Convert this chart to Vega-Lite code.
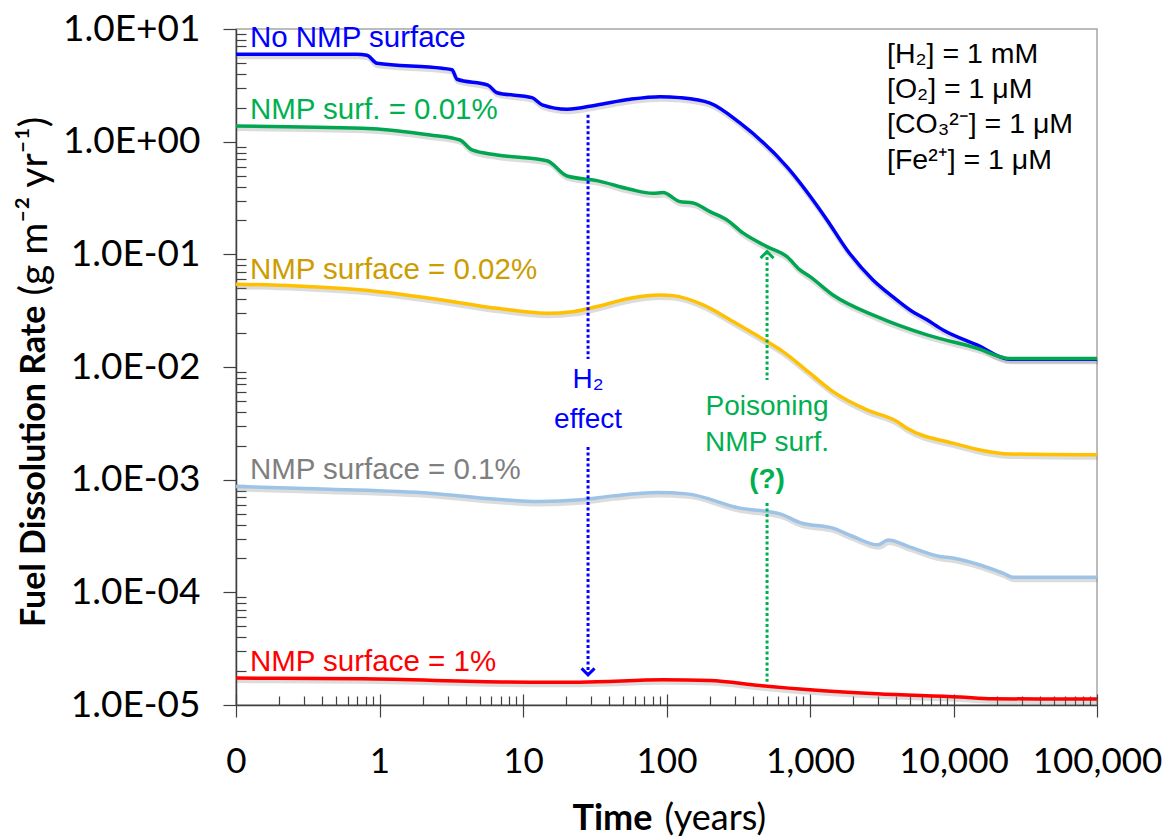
{
  "$schema": "https://vega.github.io/schema/vega-lite/v6.json",
  "width": 861,
  "height": 676,
  "autosize": {"type": "none"},
  "padding": {"left": 236, "top": 29, "right": 72, "bottom": 133},
  "background": "white",
  "config": {
    "view": {"stroke": "#a6a6a6", "strokeWidth": 1.5},
    "axis": {"grid": false}
  },
  "datasets": {
    "curves": [
      {"series": "No NMP surface", "t": 0.1, "r": 5.965},
      {"series": "No NMP surface", "t": 0.697, "r": 5.965},
      {"series": "No NMP surface", "t": 0.818, "r": 5.85},
      {"series": "No NMP surface", "t": 0.961, "r": 4.96},
      {"series": "No NMP surface", "t": 2.73, "r": 4.48},
      {"series": "No NMP surface", "t": 3.2, "r": 4.35},
      {"series": "No NMP surface", "t": 3.47, "r": 3.58},
      {"series": "No NMP surface", "t": 5.7, "r": 3.18},
      {"series": "No NMP surface", "t": 6.59, "r": 2.72},
      {"series": "No NMP surface", "t": 11.55, "r": 2.46},
      {"series": "No NMP surface", "t": 13.6, "r": 2.12},
      {"series": "No NMP surface", "t": 20.3, "r": 1.94},
      {"series": "No NMP surface", "t": 32.8, "r": 2.12},
      {"series": "No NMP surface", "t": 55.7, "r": 2.38},
      {"series": "No NMP surface", "t": 90.1, "r": 2.51},
      {"series": "No NMP surface", "t": 124, "r": 2.46},
      {"series": "No NMP surface", "t": 201, "r": 2.2},
      {"series": "No NMP surface", "t": 325, "r": 1.465},
      {"series": "No NMP surface", "t": 691, "r": 0.597},
      {"series": "No NMP surface", "t": 1314, "r": 0.202},
      {"series": "No NMP surface", "t": 1811, "r": 0.1094},
      {"series": "No NMP surface", "t": 2748, "r": 0.0593},
      {"series": "No NMP surface", "t": 3788, "r": 0.0419},
      {"series": "No NMP surface", "t": 4977, "r": 0.0321},
      {"series": "No NMP surface", "t": 6537, "r": 0.0262},
      {"series": "No NMP surface", "t": 8450, "r": 0.02134},
      {"series": "No NMP surface", "t": 14580, "r": 0.01571},
      {"series": "No NMP surface", "t": 24760, "r": 0.0117},
      {"series": "No NMP surface", "t": 100000, "r": 0.0117},
      {"series": "NMP surf. = 0.01%", "t": 0.1, "r": 1.378},
      {"series": "NMP surf. = 0.01%", "t": 0.767, "r": 1.315},
      {"series": "NMP surf. = 0.01%", "t": 2.25, "r": 1.147},
      {"series": "NMP surf. = 0.01%", "t": 3.64, "r": 1.035},
      {"series": "NMP surf. = 0.01%", "t": 4.41, "r": 0.844},
      {"series": "NMP surf. = 0.01%", "t": 6.59, "r": 0.762},
      {"series": "NMP surf. = 0.01%", "t": 14.7, "r": 0.678},
      {"series": "NMP surf. = 0.01%", "t": 20.3, "r": 0.496},
      {"series": "NMP surf. = 0.01%", "t": 32.8, "r": 0.451},
      {"series": "NMP surf. = 0.01%", "t": 55.7, "r": 0.378},
      {"series": "NMP surf. = 0.01%", "t": 80.5, "r": 0.348},
      {"series": "NMP surf. = 0.01%", "t": 94.5, "r": 0.353},
      {"series": "NMP surf. = 0.01%", "t": 124, "r": 0.2935},
      {"series": "NMP surf. = 0.01%", "t": 153, "r": 0.2858},
      {"series": "NMP surf. = 0.01%", "t": 201, "r": 0.2393},
      {"series": "NMP surf. = 0.01%", "t": 264, "r": 0.202},
      {"series": "NMP surf. = 0.01%", "t": 341, "r": 0.1548},
      {"series": "NMP surf. = 0.01%", "t": 502, "r": 0.117},
      {"series": "NMP surf. = 0.01%", "t": 691, "r": 0.0954},
      {"series": "NMP surf. = 0.01%", "t": 852, "r": 0.0727},
      {"series": "NMP surf. = 0.01%", "t": 1000, "r": 0.0634},
      {"series": "NMP surf. = 0.01%", "t": 1446, "r": 0.0436},
      {"series": "NMP surf. = 0.01%", "t": 2931, "r": 0.028},
      {"series": "NMP surf. = 0.01%", "t": 6537, "r": 0.01927},
      {"series": "NMP surf. = 0.01%", "t": 14580, "r": 0.01468},
      {"series": "NMP surf. = 0.01%", "t": 24760, "r": 0.0119},
      {"series": "NMP surf. = 0.01%", "t": 100000, "r": 0.0119},
      {"series": "NMP surface = 0.02%", "t": 0.1, "r": 0.0543},
      {"series": "NMP surface = 0.02%", "t": 0.266, "r": 0.0524},
      {"series": "NMP surface = 0.02%", "t": 0.767, "r": 0.0483},
      {"series": "NMP surface = 0.02%", "t": 2.25, "r": 0.0408},
      {"series": "NMP surface = 0.02%", "t": 6.59, "r": 0.0332},
      {"series": "NMP surface = 0.02%", "t": 14.7, "r": 0.03},
      {"series": "NMP surface = 0.02%", "t": 22.3, "r": 0.031},
      {"series": "NMP surface = 0.02%", "t": 32.8, "r": 0.0344},
      {"series": "NMP surface = 0.02%", "t": 55.7, "r": 0.0408},
      {"series": "NMP surface = 0.02%", "t": 90.1, "r": 0.0436},
      {"series": "NMP surface = 0.02%", "t": 111, "r": 0.043},
      {"series": "NMP surface = 0.02%", "t": 180, "r": 0.0356},
      {"series": "NMP surface = 0.02%", "t": 291, "r": 0.0253},
      {"series": "NMP surface = 0.02%", "t": 502, "r": 0.0168},
      {"series": "NMP surface = 0.02%", "t": 648, "r": 0.0137},
      {"series": "NMP surface = 0.02%", "t": 1000, "r": 0.00881},
      {"series": "NMP surface = 0.02%", "t": 1446, "r": 0.00605},
      {"series": "NMP surface = 0.02%", "t": 2496, "r": 0.00416},
      {"series": "NMP surface = 0.02%", "t": 4041, "r": 0.00328},
      {"series": "NMP surface = 0.02%", "t": 4742, "r": 0.00286},
      {"series": "NMP surface = 0.02%", "t": 9920, "r": 0.00211},
      {"series": "NMP surface = 0.02%", "t": 24760, "r": 0.00169},
      {"series": "NMP surface = 0.02%", "t": 100000, "r": 0.00166},
      {"series": "NMP surface = 0.1%", "t": 0.1, "r": 0.000869},
      {"series": "NMP surface = 0.1%", "t": 0.452, "r": 0.000823},
      {"series": "NMP surface = 0.1%", "t": 2.25, "r": 0.000759},
      {"series": "NMP surface = 0.1%", "t": 6.59, "r": 0.000671},
      {"series": "NMP surface = 0.1%", "t": 13.1, "r": 0.000639},
      {"series": "NMP surface = 0.1%", "t": 25, "r": 0.000662},
      {"series": "NMP surface = 0.1%", "t": 42.4, "r": 0.000718},
      {"series": "NMP surface = 0.1%", "t": 85.9, "r": 0.000768},
      {"series": "NMP surface = 0.1%", "t": 139, "r": 0.000748},
      {"series": "NMP surface = 0.1%", "t": 325, "r": 0.000559},
      {"series": "NMP surface = 0.1%", "t": 618, "r": 0.000497},
      {"series": "NMP surface = 0.1%", "t": 852, "r": 0.000416},
      {"series": "NMP surface = 0.1%", "t": 1446, "r": 0.000371},
      {"series": "NMP surface = 0.1%", "t": 1994, "r": 0.000313},
      {"series": "NMP surface = 0.1%", "t": 2979, "r": 0.000264},
      {"series": "NMP surface = 0.1%", "t": 3497, "r": 0.000292},
      {"series": "NMP surface = 0.1%", "t": 4977, "r": 0.000252},
      {"series": "NMP surface = 0.1%", "t": 8054, "r": 0.000208},
      {"series": "NMP surface = 0.1%", "t": 9011, "r": 0.000205},
      {"series": "NMP surface = 0.1%", "t": 22130, "r": 0.000148},
      {"series": "NMP surface = 0.1%", "t": 25980, "r": 0.000136},
      {"series": "NMP surface = 0.1%", "t": 100000, "r": 0.000136},
      {"series": "NMP surface = 1%", "t": 0.1, "r": 0.00001733},
      {"series": "NMP surface = 1%", "t": 0.767, "r": 0.00001708},
      {"series": "NMP surface = 1%", "t": 11.2, "r": 0.00001596},
      {"series": "NMP surface = 1%", "t": 25, "r": 0.00001596},
      {"series": "NMP surface = 1%", "t": 94.5, "r": 0.00001673},
      {"series": "NMP surface = 1%", "t": 201, "r": 0.00001649},
      {"series": "NMP surface = 1%", "t": 448, "r": 0.00001489},
      {"series": "NMP surface = 1%", "t": 1000, "r": 0.00001364},
      {"series": "NMP surface = 1%", "t": 2931, "r": 0.00001257},
      {"series": "NMP surface = 1%", "t": 11100, "r": 0.00001175},
      {"series": "NMP surface = 1%", "t": 18850, "r": 0.00001135},
      {"series": "NMP surface = 1%", "t": 100000, "r": 0.0000113}
    ],
    "seriesLabels": [
      {"series": "No NMP surface", "t": 0.125, "r": 8.32},
      {"series": "NMP surf. = 0.01%", "t": 0.125, "r": 1.91},
      {"series": "NMP surface = 0.02%", "t": 0.125, "r": 0.0727},
      {"series": "NMP surface = 0.1%", "t": 0.125, "r": 0.00122},
      {"series": "NMP surface = 1%", "t": 0.125, "r": 0.0000242}
    ],
    "conditions": [
      {"text": "[H₂] = 1 mM", "t": 3440, "r": 6.0},
      {"text": "[O₂] = 1 μM", "t": 3440, "r": 2.95},
      {"text": "[CO₃²⁻] = 1 μM", "t": 3440, "r": 1.44},
      {"text": "[Fe²⁺] = 1 μM", "t": 3440, "r": 0.69}
    ],
    "arrows": [
      {"note": "H2", "t": 28.4, "r": 1.73, "r2": 0.0118},
      {"note": "H2", "t": 28.4, "r": 0.00195, "r2": 0.0000185},
      {"note": "poison", "t": 502, "r": 0.1057, "r2": 0.00768},
      {"note": "poison", "t": 502, "r": 0.000622, "r2": 0.0000161}
    ],
    "heads": [
      {"note": "H2", "t": 28.4, "r": 0.0000185},
      {"note": "poison", "t": 502, "r": 0.1057}
    ],
    "notes": [
      {"note": "H2", "text": "H₂", "t": 28.4, "r": 0.00768},
      {"note": "H2", "text": "effect", "t": 28.4, "r": 0.00339},
      {"note": "poison", "text": "Poisoning", "t": 502, "r": 0.00443},
      {"note": "poison", "text": "NMP surf.", "t": 502, "r": 0.00212},
      {"note": "poisonq", "text": "(?)", "t": 502, "r": 0.000996}
    ]
  },
  "layer": [
    {
      "data": {"name": "curves"},
      "mark": {"type": "line", "interpolate": "monotone", "stroke": "#808080", "strokeWidth": 5, "opacity": 0.28, "yOffset": 2.5, "xOffset": 1},
      "encoding": {
        "x": {"field": "t", "type": "quantitative", "scale": {"type": "log", "domain": [0.1, 100000], "nice": false},
          "axis": {"orient": "bottom", "labels": false, "ticks": false, "domain": false, "grid": false,
            "title": "(years)", "titleFont": "Lato", "titleFontSize": 36, "titleFontWeight": "normal", "titleColor": "#000000",
            "titleAlign": "left", "titleBaseline": "alphabetic", "titleAnchor": "start", "titleX": 428, "titleY": 124}},
        "y": {"field": "r", "type": "quantitative", "scale": {"type": "log", "domain": [0.00001, 10], "nice": false},
          "axis": {"orient": "left", "labels": false, "ticks": false, "domain": false, "grid": false,
            "title": "(g m⁻² yr⁻¹)", "titleFont": "Lato", "titleFontSize": 39, "titleFontWeight": "normal", "titleColor": "#000000",
            "titleAngle": 270, "titleAlign": "left", "titleBaseline": "middle", "titleAnchor": "start", "titleX": -202, "titleY": 266}},
        "detail": {"field": "series"}
      }
    },
    {
      "data": {"name": "curves"},
      "mark": {"type": "line", "interpolate": "monotone", "strokeWidth": 3.5},
      "encoding": {
        "x": {"field": "t", "type": "quantitative", "scale": {"type": "log", "domain": [0.1, 100000], "nice": false},
          "axis": {"orient": "bottom", "grid": false,
            "values": [0.1,0.2,0.3,0.4,0.5,0.6,0.7,0.8,0.9,1,2,3,4,5,6,7,8,9,10,20,30,40,50,60,70,80,90,100,200,300,400,500,600,700,800,900,1000,2000,3000,4000,5000,6000,7000,8000,9000,10000,20000,30000,40000,50000,60000,70000,80000,90000,100000],
            "labelExpr": "abs(log(datum.value)/LN10 - round(log(datum.value)/LN10)) < 0.01 ? (datum.value < 0.5 ? '0' : format(datum.value, ',')) : ''",
            "tickSize": {"condition": {"test": "abs(log(datum.value)/LN10 - round(log(datum.value)/LN10)) < 0.01", "value": 12}, "value": -9},
            "tickColor": "#404040", "tickWidth": 1.2, "domainColor": "#404040", "domainWidth": 1.5,
            "labelFont": "Lato", "labelFontSize": 35, "labelColor": "#000000", "labelPadding": 27,
            "labelOverlap": false, "labelFlush": false, "labelBound": false,
            "title": "Time", "titleFont": "Lato", "titleFontSize": 36, "titleFontWeight": "bold", "titleColor": "#000000",
            "titleAlign": "right", "titleBaseline": "alphabetic", "titleAnchor": "start", "titleX": 416, "titleY": 124}},
        "y": {"field": "r", "type": "quantitative", "scale": {"type": "log", "domain": [0.00001, 10], "nice": false},
          "axis": {"orient": "left", "grid": false,
            "values": [0.00001,0.00002,0.00003,0.00004,0.00005,0.00006,0.00007,0.00008,0.00009,0.0001,0.0002,0.0003,0.0004,0.0005,0.0006,0.0007,0.0008,0.0009,0.001,0.002,0.003,0.004,0.005,0.006,0.007,0.008,0.009,0.01,0.02,0.03,0.04,0.05,0.06,0.07,0.08,0.09,0.1,0.2,0.3,0.4,0.5,0.6,0.7,0.8,0.9,1,2,3,4,5,6,7,8,9,10],
            "labelExpr": "abs(log(datum.value)/LN10 - round(log(datum.value)/LN10)) < 0.01 ? '1.0E' + (round(log(datum.value)/LN10) < 0 ? '-' : '+') + '0' + abs(round(log(datum.value)/LN10)) : ''",
            "tickSize": {"condition": {"test": "abs(log(datum.value)/LN10 - round(log(datum.value)/LN10)) < 0.01", "value": 13}, "value": -10},
            "tickColor": "#404040", "tickWidth": 1.2, "domainColor": "#404040", "domainWidth": 1.5,
            "labelFont": "Lato", "labelFontSize": 37, "labelColor": "#000000", "labelPadding": 23,
            "labelOverlap": false, "labelBound": false,
            "title": "Fuel Dissolution Rate", "titleFont": "Lato", "titleFontSize": 34, "titleFontWeight": "bold", "titleColor": "#000000",
            "titleAngle": 270, "titleAlign": "right", "titleBaseline": "middle", "titleAnchor": "start", "titleX": -202, "titleY": 276}},
        "color": {"field": "series", "type": "nominal", "legend": null,
          "scale": {"domain": ["No NMP surface", "NMP surf. = 0.01%", "NMP surface = 0.02%", "NMP surface = 0.1%", "NMP surface = 1%"],
            "range": ["#0000ff", "#00a650", "#ffc000", "#9dc3e6", "#ff0000"]}}
      }
    },
    {
      "data": {"name": "seriesLabels"},
      "mark": {"type": "text", "align": "left", "baseline": "middle", "font": "Liberation Sans", "fontSize": 29.5},
      "encoding": {
        "x": {"field": "t", "type": "quantitative", "scale": {"type": "log", "domain": [0.1, 100000], "nice": false},
          "axis": {"orient": "bottom", "grid": false, "labels": false, "domain": false, "title": null,
            "values": [0.1, 1, 10, 100, 1000, 10000, 100000], "tickSize": -11, "tickColor": "#404040", "tickWidth": 1.2}},
        "y": {"field": "r", "type": "quantitative", "scale": {"type": "log", "domain": [0.00001, 10], "nice": false}, "axis": null},
        "text": {"field": "series"},
        "color": {"field": "series", "type": "nominal", "legend": null,
          "scale": {"domain": ["No NMP surface", "NMP surf. = 0.01%", "NMP surface = 0.02%", "NMP surface = 0.1%", "NMP surface = 1%"],
            "range": ["#0000ff", "#00b050", "#cc9c00", "#7f7f7f", "#ff0000"]}}
      }
    },
    {
      "data": {"name": "conditions"},
      "mark": {"type": "text", "align": "left", "baseline": "middle", "font": "Liberation Sans", "fontSize": 28.5, "color": "#000000"},
      "encoding": {
        "x": {"field": "t", "type": "quantitative", "scale": {"type": "log", "domain": [0.1, 100000], "nice": false}, "axis": null},
        "y": {"field": "r", "type": "quantitative", "scale": {"type": "log", "domain": [0.00001, 10], "nice": false}, "axis": null},
        "text": {"field": "text"}
      }
    },
    {
      "data": {"name": "arrows"},
      "transform": [{"filter": "datum.note == 'H2'"}],
      "mark": {"type": "rule", "color": "#0000ff", "strokeWidth": 3, "strokeDash": [3, 2.5]},
      "encoding": {
        "x": {"field": "t", "type": "quantitative", "scale": {"type": "log", "domain": [0.1, 100000], "nice": false}, "axis": null},
        "y": {"field": "r", "type": "quantitative", "scale": {"type": "log", "domain": [0.00001, 10], "nice": false}, "axis": null},
        "y2": {"field": "r2"}
      }
    },
    {
      "data": {"name": "arrows"},
      "transform": [{"filter": "datum.note == 'poison'"}],
      "mark": {"type": "rule", "color": "#00b050", "strokeWidth": 3, "strokeDash": [3, 2.5]},
      "encoding": {
        "x": {"field": "t", "type": "quantitative", "scale": {"type": "log", "domain": [0.1, 100000], "nice": false}, "axis": null},
        "y": {"field": "r", "type": "quantitative", "scale": {"type": "log", "domain": [0.00001, 10], "nice": false}, "axis": null},
        "y2": {"field": "r2"}
      }
    },
    {
      "data": {"name": "heads"},
      "transform": [{"filter": "datum.note == 'H2'"}],
      "mark": {"type": "point", "shape": "M-1,-1L0,0L1,-1", "filled": false, "size": 169, "strokeWidth": 3, "color": "#0000ff", "opacity": 1},
      "encoding": {
        "x": {"field": "t", "type": "quantitative", "scale": {"type": "log", "domain": [0.1, 100000], "nice": false}, "axis": null},
        "y": {"field": "r", "type": "quantitative", "scale": {"type": "log", "domain": [0.00001, 10], "nice": false}, "axis": null}
      }
    },
    {
      "data": {"name": "heads"},
      "transform": [{"filter": "datum.note == 'poison'"}],
      "mark": {"type": "point", "shape": "M-1,1L0,0L1,1", "filled": false, "size": 169, "strokeWidth": 3, "color": "#00b050", "opacity": 1},
      "encoding": {
        "x": {"field": "t", "type": "quantitative", "scale": {"type": "log", "domain": [0.1, 100000], "nice": false}, "axis": null},
        "y": {"field": "r", "type": "quantitative", "scale": {"type": "log", "domain": [0.00001, 10], "nice": false}, "axis": null}
      }
    },
    {
      "data": {"name": "notes"},
      "transform": [{"filter": "datum.note == 'H2'"}],
      "mark": {"type": "text", "align": "center", "baseline": "middle", "font": "Liberation Sans", "fontSize": 28, "color": "#0000ff"},
      "encoding": {
        "x": {"field": "t", "type": "quantitative", "scale": {"type": "log", "domain": [0.1, 100000], "nice": false}, "axis": null},
        "y": {"field": "r", "type": "quantitative", "scale": {"type": "log", "domain": [0.00001, 10], "nice": false}, "axis": null},
        "text": {"field": "text"}
      }
    },
    {
      "data": {"name": "notes"},
      "transform": [{"filter": "datum.note == 'poison'"}],
      "mark": {"type": "text", "align": "center", "baseline": "middle", "font": "Liberation Sans", "fontSize": 28, "color": "#00b050"},
      "encoding": {
        "x": {"field": "t", "type": "quantitative", "scale": {"type": "log", "domain": [0.1, 100000], "nice": false}, "axis": null},
        "y": {"field": "r", "type": "quantitative", "scale": {"type": "log", "domain": [0.00001, 10], "nice": false}, "axis": null},
        "text": {"field": "text"}
      }
    },
    {
      "data": {"name": "notes"},
      "transform": [{"filter": "datum.note == 'poisonq'"}],
      "mark": {"type": "text", "align": "center", "baseline": "middle", "font": "Liberation Sans", "fontSize": 28, "fontWeight": "bold", "color": "#00b050"},
      "encoding": {
        "x": {"field": "t", "type": "quantitative", "scale": {"type": "log", "domain": [0.1, 100000], "nice": false}, "axis": null},
        "y": {"field": "r", "type": "quantitative", "scale": {"type": "log", "domain": [0.00001, 10], "nice": false}, "axis": null},
        "text": {"field": "text"}
      }
    }
  ],
  "resolve": {"axis": {"x": "independent", "y": "independent"}, "scale": {"color": "independent"}}
}
